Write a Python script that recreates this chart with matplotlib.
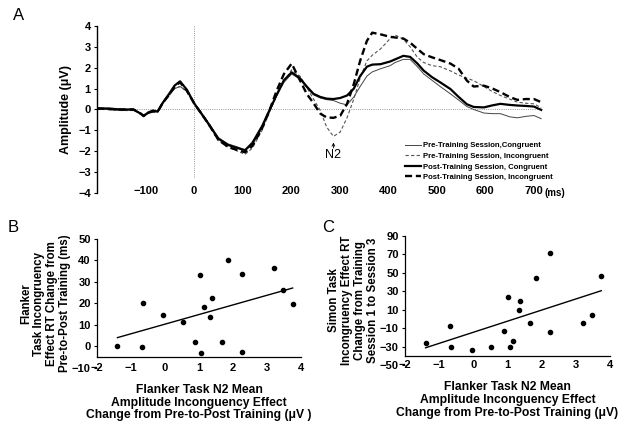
import numpy as np
import matplotlib
matplotlib.use("Agg")
import matplotlib.pyplot as plt

plt.rcParams['font.family'] = ['Liberation Sans', 'DejaVu Sans']

# ---- panel A: ERP waveforms (ms, microvolts) ----
t_ms = [-200, -180, -150, -125, -110, -104, -95, -85, -75, -65, -50, -40, -29, -15, 0,
        15, 30, 50, 70, 90, 105, 120, 140, 156, 170, 185, 201, 218, 232, 246,
        260, 273, 287, 301, 315, 329, 342, 356, 367, 384, 404, 414, 431, 445, 460,
        473, 490, 507, 528, 545, 562, 576, 597, 615, 631, 650, 666, 683, 700, 715]

pre_cong = [0.03, 0.0, -0.05, 0.0, -0.2, -0.3, -0.2, -0.1, -0.1, 0.35, 0.75, 1.0, 1.1, 0.9, 0.3,
            -0.15, -0.65, -1.35, -1.65, -1.8, -1.95, -1.7, -0.9, -0.05, 0.65, 1.3, 1.7, 1.45, 1.05, 0.7,
            0.55, 0.47, 0.43, 0.3, 0.22, 0.6, 1.1, 1.6, 1.8, 1.95, 2.1, 2.25, 2.4, 2.4, 2.05,
            1.7, 1.4, 1.1, 0.75, 0.45, 0.14, 0.0, -0.17, -0.2, -0.2, -0.35, -0.4, -0.33, -0.29, -0.44]

pre_incong = [0.0, 0.0, -0.05, -0.05, -0.2, -0.28, -0.2, -0.1, -0.12, 0.3, 0.7, 1.0, 1.1, 0.85, 0.25,
              -0.2, -0.75, -1.5, -1.8, -2.0, -2.15, -1.85, -1.0, -0.1, 0.65, 1.35, 1.9, 1.6, 1.06, 0.5,
              -0.05, -0.84, -1.29, -1.08, -0.4, 0.5, 1.5, 2.33, 2.6, 2.9, 3.4, 3.57, 3.37, 3.0, 2.5,
              2.25, 2.1, 2.05, 1.85, 1.65, 1.5, 1.38, 1.1, 0.85, 0.67, 0.5, 0.35, 0.3, 0.27, 0.08]

post_cong = [0.05, 0.05, 0.0, 0.0, -0.2, -0.32, -0.15, -0.05, -0.1, 0.3, 0.8, 1.15, 1.35, 0.95, 0.3,
             -0.2, -0.7, -1.4, -1.7, -1.85, -1.95, -1.6, -0.8, 0.0, 0.7, 1.4, 1.78, 1.5, 1.1, 0.75,
             0.6, 0.52, 0.5, 0.55, 0.67, 1.0, 1.6, 2.05, 2.15, 2.17, 2.3, 2.4, 2.57, 2.52, 2.2,
             1.86, 1.55, 1.3, 0.98, 0.6, 0.25, 0.12, 0.1, 0.2, 0.27, 0.22, 0.19, 0.17, 0.14, -0.02]

post_incong = [0.05, 0.03, 0.0, 0.0, -0.2, -0.3, -0.15, -0.1, -0.1, 0.3, 0.75, 1.1, 1.3, 0.9, 0.3,
               -0.2, -0.7, -1.45, -1.8, -1.95, -2.05, -1.75, -0.9, 0.0, 0.9, 1.7, 2.2, 1.4, 0.75, 0.3,
               -0.2, -0.38, -0.4, -0.3, 0.27, 1.22, 2.33, 3.29, 3.68, 3.6, 3.48, 3.45, 3.4, 3.2, 2.9,
               2.65, 2.5, 2.37, 2.2, 1.95, 1.38, 1.1, 1.14, 1.0, 0.83, 0.6, 0.46, 0.5, 0.5, 0.35]

legend_labels = ['Pre-Training Session,Congruent',
                 'Pre-Training Session, Incongruent',
                 'Post-Training Session, Congruent',
                 'Post-Training Session, Incongruent']

# ---- panels B and C: scatter ----
n2_change = [-1.4, -0.68, -0.65, -0.05, 0.52, 0.89, 1.02, 1.06, 1.15,
             1.33, 1.38, 1.66, 1.85, 2.25, 2.25, 3.2, 3.48, 3.75]
flanker_rt = [0.0, -0.4, 20.3, 14.5, 11.5, 1.9, 33.2, -3.0, 18.3,
              13.8, 22.6, 1.8, 40.1, 33.8, -2.7, 36.6, 26.2, 19.6]
simon_rt = [-25.9, -7.3, -29.9, -34.2, -30.6, -12.7, 23.6, -29.9, -24.1,
            10.0, 19.6, -4.4, 44.4, 71.0, -13.7, -4.8, 3.9, 45.8]
# trend lines (slope, intercept)
fit_b = (4.49, 10.3)
fit_c = (11.98, -14.5)

fig = plt.figure(figsize=(6.3, 4.26), dpi=100)

# ================= A =================
ax = fig.add_axes([0.154, 0.547, 0.732, 0.392])
ax.plot(t_ms, pre_cong, color='#444444', lw=0.7, label=legend_labels[0])
ax.plot(t_ms, pre_incong, color='#555555', lw=0.8, dashes=(3, 2), label=legend_labels[1])
ax.plot(t_ms, post_cong, color='black', lw=1.6, label=legend_labels[2])
ax.plot(t_ms, post_incong, color='black', lw=1.7, dashes=(3, 1.6), label=legend_labels[3])

ax.plot([-200, 715], [0, 0], color='#777777', lw=0.6, ls=':', zorder=0)
ax.plot([0, 0], [4, -3.3], color='#777777', lw=0.6, ls=':', zorder=0)

ax.set_xlim(-200, 750)
ax.set_ylim(-4, 4)
ax.set_yticks(range(-4, 5))
ax.set_xticks(range(-100, 800, 100))
for s in ['top', 'right', 'bottom']:
    ax.spines[s].set_visible(False)
ax.spines['left'].set_linewidth(1.0)
ax.tick_params(axis='y', length=2.5, width=0.8, pad=2, labelsize=8)
ax.tick_params(axis='x', length=0, pad=-5, labelsize=8)
for lab in ax.get_xticklabels() + ax.get_yticklabels():
    lab.set_fontweight('bold')
ax.text(722, -4, '(ms)', fontsize=7, fontweight='bold', va='center', ha='left')
ax.set_ylabel('Amplitude (μV)', fontsize=9, fontweight='bold', labelpad=4)

ax.annotate('', xy=(287, -1.45), xytext=(287, -1.98),
            arrowprops=dict(arrowstyle='->', lw=0.6, color='black', mutation_scale=5))
ax.text(287, -2.2, 'N2', fontsize=9, ha='center', va='center')

fig.legend(loc='upper left', bbox_to_anchor=(405 / 630, 1 - 142 / 426), frameon=False,
           prop={'weight': 'bold', 'size': 5.6}, handlelength=2.0,
           handletextpad=0.3, labelspacing=0.4, borderpad=0, borderaxespad=0)

fig.text(13 / 630, 1 - 15 / 426, 'A', fontsize=12, va='center', ha='left')

# ================= B & C =================
def scatter_panel(rect, y, fit, ylim, yticks, axis_y, ylabel, xlabel):
    a = fig.add_axes(rect)
    a.scatter(n2_change, y, s=9, color='black', zorder=3)
    xs = np.array([min(n2_change), max(n2_change)])
    a.plot(xs, fit[0] * xs + fit[1], color='black', lw=1.0)
    a.set_xlim(-2, 4)
    # small margin below the lowest tick so its label is kept
    a.set_ylim(ylim[0] - 0.003 * (ylim[1] - ylim[0]), ylim[1])
    a.set_yticks(list(yticks))
    a.set_xticks(range(-2, 5))
    for s in ['top', 'right', 'bottom', 'left']:
        a.spines[s].set_visible(False)
    # axis lines: x axis crosses a little above the lowest y tick
    lo, hi = a.get_ylim()
    a.axhline(axis_y, color='black', lw=0.9, clip_on=False)
    a.axvline(-2, ymin=(axis_y - lo) / (hi - lo), ymax=1, color='black', lw=0.9, clip_on=False)
    a.tick_params(axis='y', length=2.5, width=0.8, pad=2, labelsize=8)
    a.tick_params(axis='x', length=0, pad=-4, labelsize=8)
    for lab in a.get_xticklabels() + a.get_yticklabels():
        lab.set_fontweight('bold')
        lab.set_visible(True)
    a.set_ylabel(ylabel, fontsize=8.3, fontweight='bold', labelpad=0.5, linespacing=1.1)
    a.set_xlabel(xlabel, fontsize=8.7, fontweight='bold', labelpad=8, linespacing=1.1)
    return a

axb = scatter_panel([0.154, 0.136, 0.324, 0.303], flanker_rt, fit_b, (-10, 50),
                    range(-10, 60, 10), -5,
                    'Flanker\nTask Incongruency\nEffect RT Change from\nPre-to-Post Training (ms)',
                    'Flanker Task N2 Mean\nAmplitude Inconguency Effect\nChange from Pre-to-Post Training (μV )')
axc = scatter_panel([0.643, 0.142, 0.325, 0.305], simon_rt, fit_c, (-50, 90),
                    range(-50, 110, 20), -40,
                    'Simon Task\nIncongruency Effect RT\nChange from Training\nSession 1 to Session 3',
                    'Flanker Task N2 Mean\nAmplitude Inconguency Effect\nChange from Pre-to-Post Training (μV)')

fig.text(8 / 630, 1 - 228 / 426, 'B', fontsize=12, va='center', ha='left')
fig.text(322 / 630, 1 - 228 / 426, 'C', fontsize=12, va='center', ha='left')

fig.savefig('out.png', dpi=100)
